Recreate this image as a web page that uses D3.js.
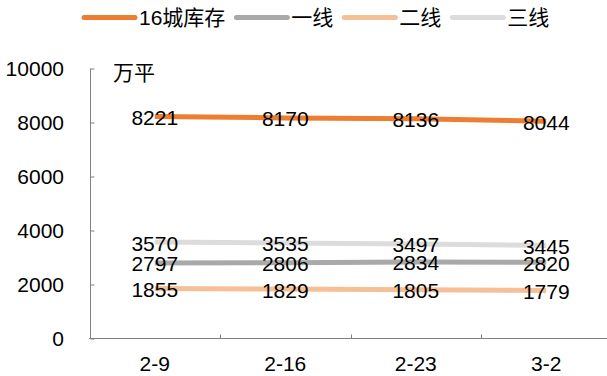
<!DOCTYPE html>
<html>
<head>
<meta charset="utf-8">
<script src="https://cdn.jsdelivr.net/npm/d3@7"></script>
<style>
  html, body { margin: 0; padding: 0; background: #fff; }
  svg { display: block; }
  text { font-family: Arial, "Liberation Sans", "Noto Sans CJK SC", sans-serif; fill: #000; }
</style>
</head>
<body>
<svg id="chart" width="607" height="376"></svg>
<script>
// Weekly residential inventory (万平), 16 cities and by city tier
const weeks = ["2-9", "2-16", "2-23", "3-2"];
const total16 = [8221, 8170, 8136, 8044];
const tier1 = [2797, 2806, 2834, 2820];
const tier2 = [1855, 1829, 1805, 1779];
const tier3 = [3570, 3535, 3497, 3445];
const seriesNames = ["16城库存", "一线", "二线", "三线"];
const seriesColors = ["#ED7D31", "#A9A9A9", "#F6BF95", "#DCDCDC"];
const yTicks = [0, 2000, 4000, 6000, 8000, 10000];
const unitLabel = "万平";

const seriesValues = [total16, tier1, tier2, tier3];
const series = seriesNames.map((name, i) => ({ name, color: seriesColors[i], values: seriesValues[i] }));

const svg = d3.select("#chart");

const x = d3.scaleBand().domain(weeks).range([89.5, 611.5]).paddingInner(0).paddingOuter(0);
const y = d3.scaleLinear().domain([0, 10000]).range([338.5, 68.5]);
const xc = d => x(d) + x.bandwidth() / 2;

const axisColor = "#808080";

// Y axis (ticks point inward)
const yAxis = svg.append("g")
  .attr("transform", "translate(90.5,0)")
  .call(d3.axisRight(y).tickValues(yTicks).tickSize(4).tickFormat(""));
yAxis.select(".domain").attr("stroke", axisColor).attr("d", `M0,${y(0)}V${y(10000)}`);
yAxis.selectAll(".tick line").attr("stroke", axisColor);

svg.append("g").selectAll("text")
  .data(yTicks).join("text")
  .attr("x", 64).attr("y", d => y(d)).attr("dy", "0.36em")
  .attr("text-anchor", "end").attr("font-size", 21)
  .text(d => d);

// X axis with tick marks on band boundaries
const xAxis = svg.append("g")
  .attr("transform", `translate(0,${y(0)})`);
xAxis.append("line").attr("x1", 89).attr("x2", 607).attr("stroke", axisColor);
xAxis.selectAll("line.tk")
  .data(weeks.slice(1)).join("line").attr("class", "tk")
  .attr("x1", d => Math.round(x(d)) + 0.5).attr("x2", d => Math.round(x(d)) + 0.5)
  .attr("y1", 0).attr("y2", -4).attr("stroke", axisColor);
xAxis.selectAll("text")
  .data(weeks).join("text")
  .attr("x", d => xc(d)).attr("y", 32)
  .attr("text-anchor", "middle").attr("font-size", 21)
  .text(d => d);

// Unit label
svg.append("text").attr("x", 113).attr("y", 80).attr("font-size", 21).text(unitLabel);

// Lines
const line = d3.line().x((v, i) => xc(weeks[i])).y(v => y(v));
svg.append("g").selectAll("path")
  .data(series).join("path")
  .attr("d", s => line(s.values))
  .attr("fill", "none")
  .attr("stroke", s => s.color)
  .attr("stroke-width", 5);

// Data labels
series.forEach(s => {
  svg.append("g").selectAll("text")
    .data(s.values).join("text")
    .attr("x", (v, i) => xc(weeks[i])).attr("y", v => y(v)).attr("dy", "0.4em")
    .attr("text-anchor", "middle").attr("font-size", 21)
    .text(v => v);
});

// Legend
const legend = svg.append("g");
let lx = 82;
series.forEach(s => {
  legend.append("line")
    .attr("x1", lx + 2).attr("x2", lx + 53).attr("y1", 17.5).attr("y2", 17.5)
    .attr("stroke", s.color).attr("stroke-width", 5).attr("stroke-linecap", "round");
  const t = legend.append("text")
    .attr("x", lx + 57).attr("y", 17.5).attr("dy", "0.37em")
    .attr("font-size", 21).text(s.name);
  lx = lx + 57 + t.node().getComputedTextLength() + 9;
});
</script>
</body>
</html>
